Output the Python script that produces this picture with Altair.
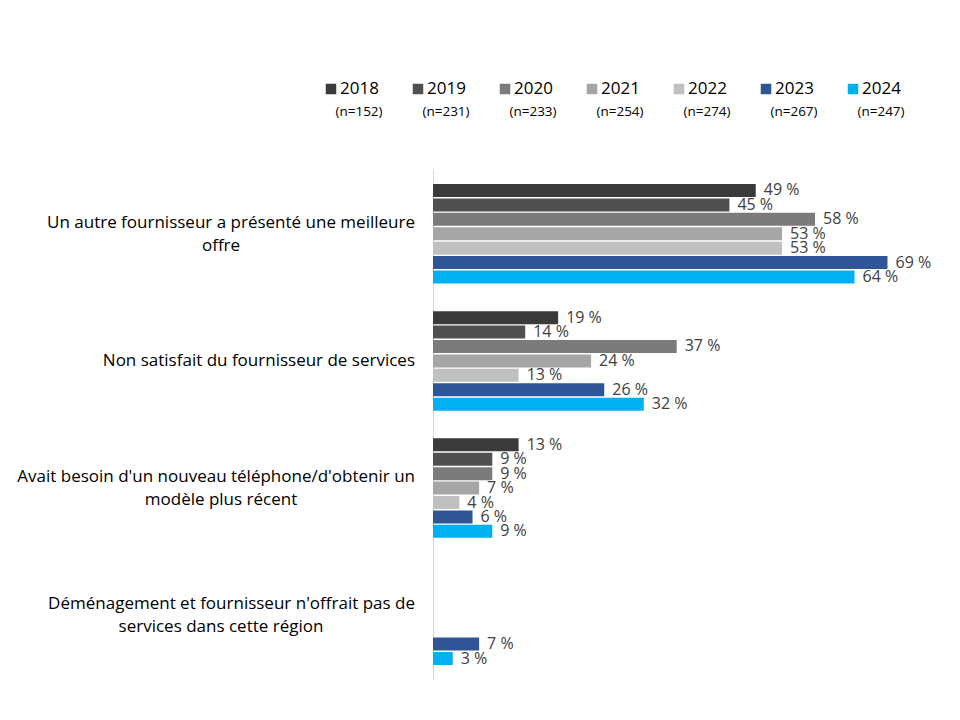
import altair as alt
import pandas as pd

categories = [
    "Un autre fournisseur a présenté une meilleure offre",
    "Non satisfait du fournisseur de services",
    "Avait besoin d'un nouveau téléphone/d'obtenir un modèle plus récent",
    "Déménagement et fournisseur n'offrait pas de services dans cette région",
]
category_lines = [
    ["Un autre fournisseur a présenté une meilleure", "offre"],
    ["Non satisfait du fournisseur de services"],
    ["Avait besoin d'un nouveau téléphone/d'obtenir un", "modèle plus récent"],
    ["Déménagement et fournisseur n'offrait pas de", "services dans cette région"],
]
years = ["2018", "2019", "2020", "2021", "2022", "2023", "2024"]
n_sizes = [152, 231, 233, 254, 274, 267, 247]
colors = ["#3a3a3a", "#505050", "#7b7b7b", "#a6a6a6", "#c0c0c0", "#2f5597", "#00b0f0"]

v2018 = [49, 19, 13, None]
v2019 = [45, 14, 9, None]
v2020 = [58, 37, 9, None]
v2021 = [53, 24, 7, None]
v2022 = [53, 13, 4, None]
v2023 = [69, 26, 6, 7]
v2024 = [64, 32, 9, 3]
series = [v2018, v2019, v2020, v2021, v2022, v2023, v2024]

rows = []
for y, vals in zip(years, series):
    for c, v in zip(categories, vals):
        if v is not None:
            rows.append({"cat": c, "year": y, "value": v, "label": f"{v} %"})
df = pd.DataFrame(rows)

line_rows = []
for c, lines in zip(categories, category_lines):
    for i, t in enumerate(lines):
        line_rows.append({"cat": c, "text": t, "line": i, "nlines": len(lines)})
ldf = pd.DataFrame(line_rows)

leg = pd.DataFrame({"year": years, "n": [f"(n={n})" for n in n_sizes]})

FONT = "Open Sans"
LABEL_SIZE = 17

yenc = alt.Y(
    "cat:N",
    sort=categories,
    scale=alt.Scale(domain=categories, paddingInner=0.218, paddingOuter=0.118),
    axis=alt.Axis(labels=False, ticks=False, title=None, grid=False,
                  domainColor="#d9d9d9", domainWidth=1),
)
yoff = alt.YOffset("year:N", sort=years,
                   scale=alt.Scale(domain=years, paddingInner=0.1, paddingOuter=0))
xenc = alt.X("value:Q", scale=alt.Scale(domain=[0, 75]), axis=None)
cenc = alt.Color("year:N", scale=alt.Scale(domain=years, range=colors), legend=None)

base = alt.Chart(df)
bars = base.mark_bar().encode(y=yenc, yOffset=yoff, x=xenc, color=cenc)
vals = base.mark_text(align="left", baseline="middle", dx=8, font=FONT,
                      fontSize=16, color="#404040").encode(
    y=yenc, yOffset=yoff, x=xenc, text="label:N")

lbase = alt.Chart(ldf)
first_lines = lbase.transform_filter("datum.line == 0 && datum.nlines == 2").mark_text(
    align="right", baseline="middle", dy=-11, font=FONT, fontSize=LABEL_SIZE, color="#000000"
).encode(y=alt.Y("cat:N", sort=categories), x=alt.value(-18), text="text:N")
second_lines = lbase.transform_filter("datum.line == 1").mark_text(
    align="center", baseline="middle", dy=12, font=FONT, fontSize=LABEL_SIZE, color="#000000"
).encode(y=alt.Y("cat:N", sort=categories), x=alt.value(-212), text="text:N")
single_lines = lbase.transform_filter("datum.nlines == 1").mark_text(
    align="right", baseline="middle", font=FONT, fontSize=LABEL_SIZE, color="#000000"
).encode(y=alt.Y("cat:N", sort=categories), x=alt.value(-18), text="text:N")

main = alt.layer(bars, vals, first_lines, second_lines, single_lines)

lx = alt.X("year:N", sort=years, axis=None,
           scale=alt.Scale(type="point", domain=years, range=[-102, 420], padding=0))
lb = alt.Chart(leg)
squares = lb.mark_square(size=110, opacity=1).encode(
    x=lx, y=alt.value(-80),
    color=alt.Color("year:N", scale=alt.Scale(domain=years, range=colors), legend=None))
ytext = lb.mark_text(align="left", baseline="middle", dx=9, font=FONT, fontSize=17,
                     color="#000000").encode(x=lx, y=alt.value(-80), text="year:N")
ntext = lb.mark_text(align="center", baseline="middle", dx=28, font=FONT, fontSize=13.5,
                     color="#000000").encode(x=lx, y=alt.value(-57), text="n:N")
legend = alt.layer(squares, ytext, ntext)

chart = alt.layer(main, legend).resolve_scale(x="independent").properties(
    width=494, height=511,
    autosize=alt.AutoSizeParams(type="none"),
    padding={"left": 425, "top": 161, "right": 25, "bottom": 32},
).configure_view(stroke=None)

chart.save("out.html", embed_options={"renderer": "svg", "actions": False})
